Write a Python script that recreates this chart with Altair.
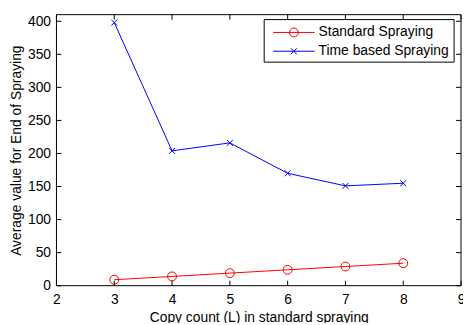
import altair as alt
import pandas as pd

copy_count = [3, 4, 5, 6, 7, 8]
standard_spraying = [9, 14, 19, 24, 29, 34]
time_based_spraying = [398, 204, 216, 170, 151, 155]
series_names = ["Standard Spraying", "Time based Spraying"]
x_ticks = [2, 3, 4, 5, 6, 7, 8, 9]
y_ticks = [0, 50, 100, 150, 200, 250, 300, 350, 400]

W, H = 409, 274
FONT = "Liberation Sans"
RED, BLUE = "#ff0000", "#0000ff"
XPATH = "M-1,-1L1,1M1,-1L-1,1"

df = pd.DataFrame({
    "x": copy_count * 2,
    "y": standard_spraying + time_based_spraying,
    "series": [series_names[0]] * len(copy_count) + [series_names[1]] * len(copy_count),
})

xs = alt.Scale(domain=[2, 9], nice=False, zero=False)
ys = alt.Scale(domain=[0, 410], nice=False)
xax = alt.Axis(values=x_ticks, format="d", tickSize=0, labelPadding=7, domain=False, grid=False,
               labelFlush=False, title="Copy count (L) in standard spraying", titlePadding=4)
yax = alt.Axis(values=y_ticks, format="d", tickSize=0, labelPadding=6, domain=False, grid=False,
               labelFlush=False, title="Average value for End of Spraying", titlePadding=4)
X = alt.X("x:Q", scale=xs, axis=xax)
Y = alt.Y("y:Q", scale=ys, axis=yax)

base = alt.Chart(df)
lines = base.mark_line(strokeWidth=1, clip=False).encode(
    x=X, y=Y,
    color=alt.Color("series:N", scale=alt.Scale(domain=series_names, range=[RED, BLUE]), legend=None),
)
pts_red = base.transform_filter(alt.datum.series == series_names[0]).mark_point(
    shape="circle", size=81, filled=False, color=RED, strokeWidth=1, opacity=1).encode(x=X, y=Y)
pts_blue = base.transform_filter(alt.datum.series == series_names[1]).mark_point(
    shape=XPATH, size=36, filled=False, color=BLUE, strokeWidth=1, opacity=1).encode(x=X, y=Y)

# frame
frame = alt.Chart(pd.DataFrame({"a": [0]})).mark_rect(fill=None, stroke="black", strokeWidth=1).encode(
    x=alt.value(0), x2=alt.value(W), y=alt.value(0), y2=alt.value(H))

# inward ticks
xt = pd.DataFrame({"x": x_ticks})
yt = pd.DataFrame({"y": y_ticks})
tk = 5
xb = alt.Chart(xt).mark_rule(color="black", strokeWidth=1).encode(x=X, y=alt.value(H), y2=alt.value(H - tk))
xtp = alt.Chart(xt).mark_rule(color="black", strokeWidth=1).encode(x=X, y=alt.value(0), y2=alt.value(tk))
yl = alt.Chart(yt).mark_rule(color="black", strokeWidth=1).encode(y=Y, x=alt.value(0), x2=alt.value(tk))
yr = alt.Chart(yt).mark_rule(color="black", strokeWidth=1).encode(y=Y, x=alt.value(W), x2=alt.value(W - tk))

# legend
lx0, lx1 = 267 - 57, 459 - 57
ly0, ly1 = 18 - 13, 61 - 13
leg_df = pd.DataFrame({"a": [0]})
leg_box = alt.Chart(leg_df).mark_rect(fill="white", stroke="black", strokeWidth=1).encode(
    x=alt.value(lx0), x2=alt.value(lx1), y=alt.value(ly0), y2=alt.value(ly1))
legend_layers = [leg_box]
rows = [(31 - 13, RED, "circle", 81), (50 - 13, BLUE, XPATH, 36)]
for name, (ry, col, shp, sz) in zip(series_names, rows):
    legend_layers.append(alt.Chart(leg_df).mark_rule(color=col, strokeWidth=1).encode(
        x=alt.value(276 - 57), x2=alt.value(318 - 57), y=alt.value(ry)))
    legend_layers.append(alt.Chart(leg_df).mark_point(shape=shp, size=sz, filled=False, color=col, strokeWidth=1, opacity=1).encode(
        x=alt.value(297 - 57), y=alt.value(ry)))
    legend_layers.append(alt.Chart(pd.DataFrame({"t": [name]})).mark_text(
        align="left", baseline="middle", font=FONT, fontSize=14, color="black").encode(
        x=alt.value(322 - 57), y=alt.value(ry), text="t:N"))

chart = alt.layer(lines, pts_red, pts_blue, xb, xtp, yl, yr, frame, *legend_layers).properties(
    width=W, height=H,
    autosize=alt.AutoSizeParams(type="none"),
    padding={"left": 49, "top": 5, "right": 2, "bottom": 36},
    background="white",
).configure_view(stroke=None).configure_axis(
    labelFont=FONT, labelFontSize=14, labelColor="black",
    titleFont=FONT, titleFontSize=14, titleColor="black", titleFontWeight="normal",
)

chart.save("out.html", embed_options={"renderer": "svg", "actions": False})
